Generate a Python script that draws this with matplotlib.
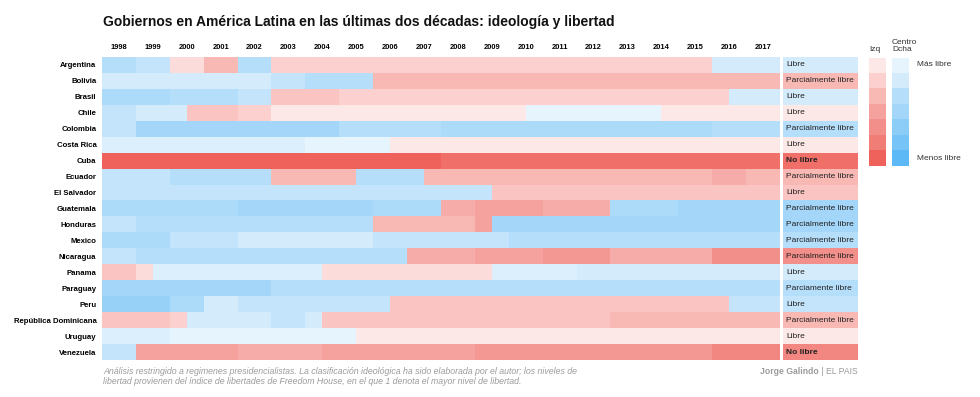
import matplotlib
matplotlib.use("Agg")
import matplotlib.pyplot as plt
import numpy as np
from matplotlib.colors import to_rgb

plt.rcParams["font.family"] = ["Liberation Sans", "DejaVu Sans"]

YEARS = list(range(1998, 2018))

COUNTRIES = [
    "Argentina", "Bolivia", "Brasil", "Chile", "Colombia", "Costa Rica", "Cuba",
    "Ecuador", "El Salvador", "Guatemala", "Honduras", "Mexico", "Nicaragua",
    "Panama", "Paraguay", "Peru", "República Dominicana", "Uruguay", "Venezuela",
]

FREEDOM_2017 = [
    "Libre", "Parcialmente libre", "Libre", "Libre", "Parcialmente libre", "Libre",
    "No libre", "Parcialmente libre", "Libre", "Parcialmente libre",
    "Parcialmente libre", "Parcialmente libre", "Parcialmente libre", "Libre",
    "Parciamente libre", "Libre", "Parcialmente libre", "Libre", "No libre",
]

# periods: (from, to, "I" = izquierda / "D" = centro-derecha, Freedom House score 1-7)
ARGENTINA = [(1998, 1999, "D", 3), (1999, 2000, "D", 2.5), (2000, 2001, "I", 1.5),
             (2001, 2002, "I", 3), (2002, 2003, "D", 3), (2003, 2016, "I", 2),
             (2016, 2018, "D", 2)]
BOLIVIA = [(1998, 2003, "D", 2), (2003, 2004, "D", 2.5), (2004, 2006, "D", 3),
           (2006, 2018, "I", 3)]
BRASIL = [(1998, 2000, "D", 3.5), (2000, 2002, "D", 3), (2002, 2003, "D", 2.5),
          (2003, 2005, "I", 2.5), (2005, 2016.5, "I", 2), (2016.5, 2018, "D", 2)]
CHILE = [(1998, 1999, "D", 2.5), (1999, 2000.5, "D", 2), (2000.5, 2002, "I", 2.5),
         (2002, 2003, "I", 2), (2003, 2010.5, "I", 1), (2010.5, 2014.5, "D", 1),
         (2014.5, 2018, "I", 1)]
COLOMBIA = [(1998, 1999, "D", 2.5), (1999, 2005, "D", 4), (2005, 2008, "D", 3),
            (2008, 2016, "D", 3.5), (2016, 2018, "D", 3)]
COSTA_RICA = [(1998, 2004, "D", 1.5), (2004, 2006.5, "D", 1), (2006.5, 2018, "I", 1)]
CUBA = [(1998, 2008, "I", 7), (2008, 2018, "I", 6.5)]
ECUADOR = [(1998, 2000, "D", 2.5), (2000, 2003, "D", 3), (2003, 2005.5, "I", 3),
           (2005.5, 2007.5, "D", 3), (2007.5, 2016, "I", 3), (2016, 2017, "I", 3.5),
           (2017, 2018, "I", 3)]
EL_SALVADOR = [(1998, 2009.5, "D", 2.5), (2009.5, 2018, "I", 2.5)]
GUATEMALA = [(1998, 2002, "D", 3.5), (2002, 2006, "D", 4), (2006, 2008, "D", 3.5),
             (2008, 2009, "I", 3.5), (2009, 2011, "I", 4), (2011, 2013, "I", 3.5),
             (2013, 2015, "D", 3.5), (2015, 2018, "D", 4)]
HONDURAS = [(1998, 1999, "D", 2.5), (1999, 2006, "D", 3), (2006, 2009, "I", 3),
            (2009, 2009.5, "I", 4), (2009.5, 2018, "D", 4)]
MEXICO = [(1998, 2000, "D", 3.5), (2000, 2002, "D", 2.5), (2002, 2006, "D", 2),
          (2006, 2010, "D", 2.5), (2010, 2018, "D", 3)]
NICARAGUA = [(1998, 1999, "D", 2.5), (1999, 2007, "D", 3), (2007, 2009, "I", 3.5),
             (2009, 2011, "I", 4), (2011, 2013, "I", 4.5), (2013, 2016, "I", 3.5),
             (2016, 2018, "I", 5)]
PANAMA = [(1998, 1999, "I", 2.5), (1999, 1999.5, "I", 1.5), (1999.5, 2004.5, "D", 1.5),
          (2004.5, 2009.5, "I", 1.5), (2009.5, 2012, "D", 1.5), (2012, 2018, "D", 2)]
PARAGUAY = [(1998, 2003, "D", 4), (2003, 2018, "D", 3)]
PERU = [(1998, 2000, "D", 4.5), (2000, 2001, "D", 3.5), (2001, 2002, "D", 2),
        (2002, 2006.5, "D", 2.5), (2006.5, 2016.5, "I", 2.5), (2016.5, 2018, "D", 2.5)]
DOMINICANA = [(1998, 2000, "I", 2.5), (2000, 2000.5, "I", 2), (2000.5, 2003, "D", 2),
              (2003, 2004, "D", 2.5), (2004, 2004.5, "D", 2), (2004.5, 2013, "I", 2.5),
              (2013, 2018, "I", 3)]
URUGUAY = [(1998, 2000, "D", 1.5), (2000, 2005.5, "D", 1), (2005.5, 2018, "I", 1)]
VENEZUELA = [(1998, 1999, "D", 2.5), (1999, 2002, "I", 4), (2002, 2004.5, "I", 3.5),
             (2004.5, 2009, "I", 4), (2009, 2016, "I", 4.5), (2016, 2018, "I", 5.5)]

SEGMENTS = [ARGENTINA, BOLIVIA, BRASIL, CHILE, COLOMBIA, COSTA_RICA, CUBA, ECUADOR,
            EL_SALVADOR, GUATEMALA, HONDURAS, MEXICO, NICARAGUA, PANAMA, PARAGUAY,
            PERU, DOMINICANA, URUGUAY, VENEZUELA]

LEGEND_SCORES = [1, 2, 3, 4, 5, 6, 7]

RED = ["#fde8e8", "#fbd0cf", "#f8b9b5", "#f5a29e", "#f38f8a", "#f17d77", "#ef625c"]
BLUE = ["#e6f4fd", "#d3ebfb", "#b5defa", "#a3d6f9", "#8ccdf8", "#76c3f7", "#5cb9f5"]
GREY = "#9b9b9b"

W, H = 980, 397


def shade(side, score):
    anchors = np.array([to_rgb(c) for c in (RED if side == "I" else BLUE)])
    levels = np.arange(1, 8)
    return np.array([np.interp(score, levels, anchors[:, ch]) for ch in range(3)])


def build_grid(step=0.5):
    starts = np.arange(YEARS[0], YEARS[-1] + 1, step)
    grid = np.ones((len(COUNTRIES), len(starts), 3))
    for i, periods in enumerate(SEGMENTS):
        for start, end, side, score in periods:
            mask = (starts >= start - 1e-9) & (starts < end - 1e-9)
            grid[i, mask] = shade(side, score)
    return grid


def px_axes(fig, x0, y0, x1, y1):
    return fig.add_axes([x0 / W, 1 - y1 / H, (x1 - x0) / W, (y1 - y0) / H])


fig = plt.figure(figsize=(W / 100, H / 100), dpi=100)
n = len(COUNTRIES)
grid = build_grid()

# main heatmap
ax = px_axes(fig, 102, 57, 780, 360)
ax.imshow(grid, aspect="auto", interpolation="nearest",
          extent=(YEARS[0], YEARS[-1] + 1, n, 0))
ax.xaxis.tick_top()
ax.set_xticks([y + 0.5 for y in YEARS])
ax.set_xticklabels([str(y) for y in YEARS], fontsize=5.4, fontweight="bold")
ax.set_yticks(np.arange(n) + 0.5)
ax.set_yticklabels(COUNTRIES, fontsize=5.6, fontweight="bold")
ax.tick_params(length=0, pad=4)
for s in ax.spines.values():
    s.set_visible(False)

# freedom label column (2017 colour)
lab = px_axes(fig, 783, 57, 858, 360)
lab.imshow(grid[:, -1:], aspect="auto", interpolation="nearest", extent=(0, 1, n, 0))
for i, txt in enumerate(FREEDOM_2017):
    lab.text(0.04, i + 0.5, txt, fontsize=6.0, va="center", ha="left", color="#222222",
             fontweight="bold" if txt == "No libre" else "normal")
lab.set_axis_off()

# legend
for x0, x1, side, head in [(869, 886, "I", "Izq"), (892, 909, "D", "Centro\nDcha")]:
    lg = px_axes(fig, x0, 57.5, x1, 166.5)
    cells = np.array([[shade(side, s)] for s in LEGEND_SCORES])
    lg.imshow(cells, aspect="auto", interpolation="nearest", extent=(0, 1, len(LEGEND_SCORES), 0))
    lg.set_axis_off()
    fig.text(x0 / W, 1 - 53 / H, head, fontsize=6.0, color="#333333", ha="left", va="bottom",
             linespacing=1.0)
fig.text(917 / W, 1 - 64 / H, "Más libre", fontsize=6.0, color="#333333", va="center")
fig.text(917 / W, 1 - 158 / H, "Menos libre", fontsize=6.0, color="#333333", va="center")

# title and notes
fig.text(103 / W, 1 - 22 / H,
         "Gobiernos en América Latina en las últimas dos décadas: ideología y libertad",
         fontsize=10.0, fontweight="bold", color="#111111", va="center", ha="left")
fig.text(103 / W, 1 - 371 / H,
         "Análisis restringido a regimenes presidencialistas. La clasificación ideológica "
         "ha sido elaborada por el autor; los niveles de",
         fontsize=6.3, style="italic", color=GREY, va="center")
fig.text(103 / W, 1 - 382 / H,
         "libertad provienen del índice de libertades de Freedom House, en el que 1 denota "
         "el mayor nivel de libertad.",
         fontsize=6.3, style="italic", color=GREY, va="center")

src = fig.text(858 / W, 1 - 371 / H, " | EL PAIS", fontsize=6.2, color=GREY,
               va="center", ha="right")
fig.canvas.draw()
bb = src.get_window_extent(fig.canvas.get_renderer())
fig.text(bb.x0 / W, 1 - 371 / H, "Jorge Galindo", fontsize=6.2, fontweight="bold",
         color=GREY, va="center", ha="right")

fig.savefig("out.png", dpi=100, facecolor="white")
